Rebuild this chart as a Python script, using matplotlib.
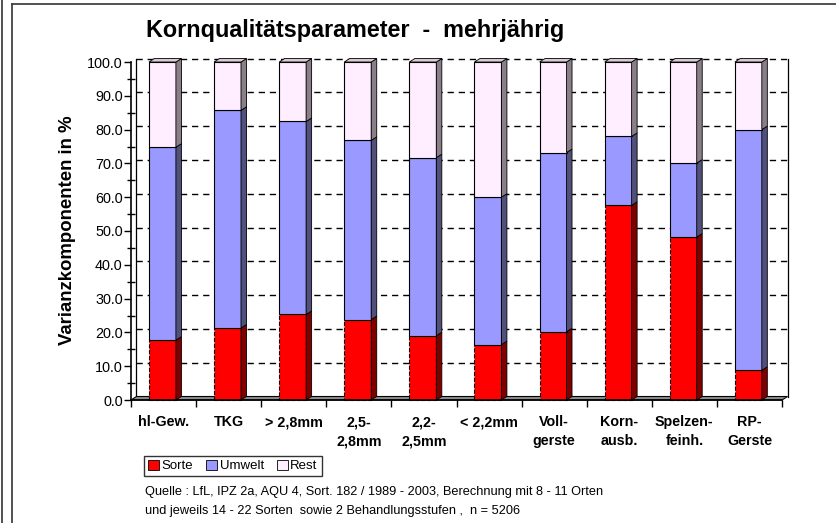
"""Kornqualitaetsparameter - Varianzkomponenten als gestapelte 3D-Saeulen."""

import matplotlib

matplotlib.use("Agg")

import matplotlib.pyplot as plt
import numpy as np
from matplotlib.lines import Line2D
from matplotlib.patches import Patch, Polygon

plt.rcParams["font.family"] = ["Liberation Sans", "DejaVu Sans"]

categories = [
    "hl-Gew.", "TKG", "> 2,8mm", "2,5-\n2,8mm", "2,2-\n2,5mm",
    "< 2,2mm", "Voll-\ngerste", "Korn-\nausb.", "Spelzen-\nfeinh.", "RP-\nGerste",
]
sorte = [17.7, 21.3, 25.3, 23.8, 19.0, 16.4, 20.2, 57.6, 48.2, 8.8]
umwelt_top = [74.8, 85.7, 82.4, 76.8, 71.7, 60.0, 73.2, 78.0, 70.1, 80.0]
umwelt = [t - s for t, s in zip(umwelt_top, sorte)]
rest = [100.0 - t for t in umwelt_top]

series = [
    ("Sorte", sorte, "#ff0000", "#800000"),
    ("Umwelt", umwelt, "#9999ff", "#50507a"),
    ("Rest", rest, "#ffeeff", "#8a7f88"),
]
yticks = np.arange(0, 101, 10)

W, H = 837, 523
fig = plt.figure(figsize=(W / 100, H / 100), dpi=100)


def fx(px):
    return px / W


def fy(py):
    return 1 - py / H


# front plane of the plot: x 131..782, y 62..400 (pixels)
ax = fig.add_axes([fx(131), fy(400), fx(782) - fx(131), fy(62) - fy(400)])
n = len(categories)
ax.set_xlim(0, n)
ax.set_ylim(0, 100)

# depth offset of the 3D look, in data units
ddx = 5.5 / ((782 - 131) / n)
ddy = 3.5 / (338 / 100)

for side in ["top", "right", "bottom"]:
    ax.spines[side].set_visible(False)
ax.spines["left"].set_linewidth(1.2)
ax.patch.set_visible(False)

# back wall, floor
wall = dict(color="black", lw=0.9, clip_on=False, zorder=1)
ax.plot([ddx, ddx], [ddy, 100 + ddy], **wall)
ax.plot([n + ddx, n + ddx], [ddy, 100 + ddy], **wall)
floor = Polygon(
    [(0, 0), (ddx, ddy), (n + ddx, ddy), (n, 0)],
    closed=True, facecolor="#8c8c8c", edgecolor="black", lw=0.8,
    clip_on=False, zorder=1,
)
ax.add_patch(floor)
ax.plot([0, n], [0, 0], color="black", lw=1.2, clip_on=False, zorder=6)

for v in yticks[1:]:
    ax.add_line(Line2D([ddx, n + ddx], [v + ddy, v + ddy], color="black", lw=1.0,
                       dashes=(4.5, 3.5), clip_on=False, zorder=1))

x = np.arange(n) + 0.483
width = 0.414
bottom = np.zeros(n)
for name, vals, face, dark in series:
    vals = np.array(vals)
    red = name == "Sorte"
    ax.bar(x, vals, width, bottom=bottom, color=face, edgecolor="black",
           linewidth=0.8, linestyle="--" if red else "-", zorder=3, clip_on=False)
    for xi, b, v in zip(x, bottom, vals):
        xr = xi + width / 2
        ax.add_patch(Polygon(
            [(xr, b), (xr + ddx, b + ddy), (xr + ddx, b + v + ddy), (xr, b + v)],
            closed=True, facecolor=dark, edgecolor="black", lw=0.6,
            clip_on=False, zorder=3,
        ))
    bottom = bottom + vals

# top faces
for xi, b in zip(x, bottom):
    xl, xr = xi - width / 2, xi + width / 2
    ax.add_patch(Polygon(
        [(xl, b), (xl + ddx, b + ddy), (xr + ddx, b + ddy), (xr, b)],
        closed=True, facecolor="#d8cbd6", edgecolor="black", lw=0.6,
        clip_on=False, zorder=4,
    ))

ax.set_yticks(yticks)
ax.set_yticklabels([f"{v:.1f}" for v in yticks], fontsize=10.4)
ax.set_yticks(np.arange(5, 100, 10), minor=True)
ax.tick_params(axis="y", which="major", direction="out", length=5, width=1, pad=1)
ax.tick_params(axis="y", which="minor", direction="inout", length=6, width=1)

ax.set_xticks(np.arange(n + 1))
ax.set_xticklabels([])
ax.set_xticks(np.arange(n) + 0.5, minor=True)
ax.set_xticklabels(categories, minor=True, fontsize=10.3, fontweight="bold",
                   linespacing=1.45, va="top")
ax.tick_params(axis="x", which="major", direction="out", length=5, width=1)
ax.tick_params(axis="x", which="minor", length=0, pad=11)

fig.text(fx(68), fy(230), "Varianzkomponenten in %", rotation=90, fontsize=13.4,
         fontweight="bold", ha="center", va="center")
fig.text(fx(355), fy(30), "Kornqualitätsparameter  -  mehrjährig", fontsize=16.8,
         fontweight="bold", ha="center", va="center")

handles = [Patch(facecolor=face, edgecolor="black", linewidth=0.6, label=name)
           for name, _, face, _ in series]
fig.legend(handles=handles, loc="center", bbox_to_anchor=(fx(233), fy(466)),
           ncol=3, fontsize=9.5, frameon=True, fancybox=False, edgecolor="black",
           handlelength=0.8, handleheight=0.8, handletextpad=0.2, columnspacing=1.0,
           borderpad=0.3)

fig.text(fx(145), fy(492),
         "Quelle : LfL, IPZ 2a, AQU 4, Sort. 182 / 1989 - 2003, Berechnung mit 8 - 11 Orten",
         fontsize=9.2, va="center")
fig.text(fx(145), fy(511),
         "und jeweils 14 - 22 Sorten  sowie 2 Behandlungsstufen ,  n = 5206",
         fontsize=9.2, va="center")

# outer frame
frame = dict(color="#333333", lw=1.2, transform=fig.transFigure)
fig.add_artist(Line2D([fx(2), fx(2)], [0, 1], **frame))
fig.add_artist(Line2D([fx(12), fx(12)], [0, fy(4)], **frame))
fig.add_artist(Line2D([fx(12), 1], [fy(4), fy(4)], **frame))

fig.savefig("out.png", dpi=100)
